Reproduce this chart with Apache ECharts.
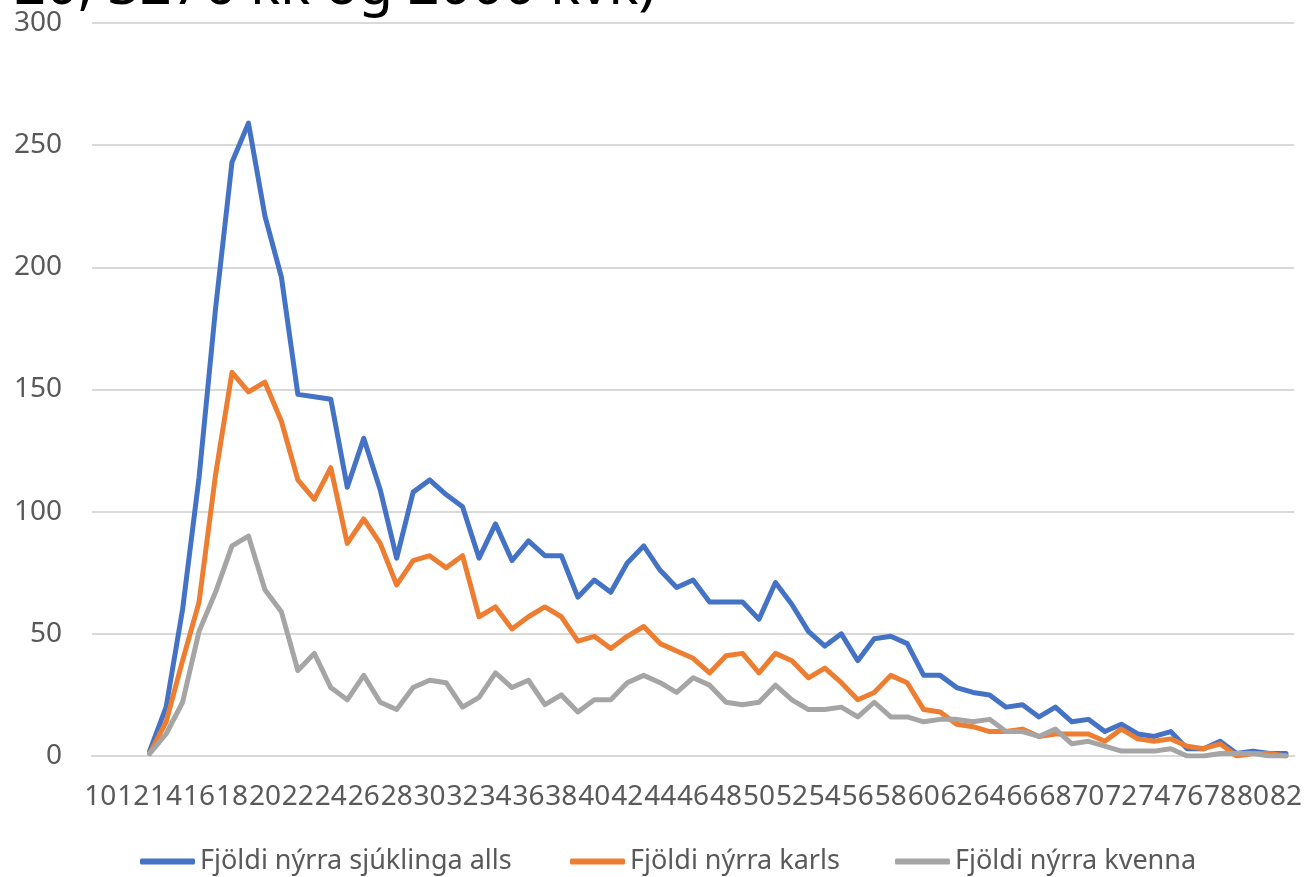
<!DOCTYPE html>
<html>
<head>
<meta charset="utf-8">
<script src="https://cdn.jsdelivr.net/npm/echarts@6/dist/echarts.min.js"></script>
<style>html,body{margin:0;padding:0;background:#fff}#c{width:1305px;height:877px}</style>
</head>
<body>
<div id="c"></div>
<script>
// Ages (categories) 10..82
const ages = ['10','11','12','13','14','15','16','17','18','19','20','21','22','23','24','25','26','27','28','29','30','31','32','33','34','35','36','37','38','39','40','41','42','43','44','45','46','47','48','49','50','51','52','53','54','55','56','57','58','59','60','61','62','63','64','65','66','67','68','69','70','71','72','73','74','75','76','77','78','79','80','81','82'];

const seriesNames = ['Fjöldi nýrra sjúklinga alls', 'Fjöldi nýrra karls', 'Fjöldi nýrra kvenna'];

const allsValues = [null,null,null,2,20,60,114,183,243,259,221,196,148,147,146,110,130,109,81,108,113,107,102,81,95,80,88,82,82,65,72,67,79,86,76,69,72,63,63,63,56,71,62,51,45,50,39,48,49,46,33,33,28,26,25,20,21,16,20,14,15,10,13,9,8,10,3,3,6,1,2,1,1];

const karlsValues = [null,null,null,1,14,39,63,115,157,149,153,137,113,105,118,87,97,87,70,80,82,77,82,57,61,52,57,61,57,47,49,44,49,53,46,43,40,34,41,42,34,42,39,32,36,30,23,26,33,30,19,18,13,12,10,10,11,8,9,9,9,6,11,7,6,7,4,3,5,0,1,1,0];

const kvennaValues = [null,null,null,1,9,22,51,67,86,90,68,59,35,42,28,23,33,22,19,28,31,30,20,24,34,28,31,21,25,18,23,23,30,33,30,26,32,29,22,21,22,29,23,19,19,20,16,22,16,16,14,15,15,14,15,10,10,8,11,5,6,4,2,2,2,3,0,0,1,1,1,0,0];

const yTicks = [0, 50, 100, 150, 200, 250, 300];
const titleText = '20, 3276 kk og 2000 kvk)';

const colors = ['#4472C4', '#ED7D31', '#A5A5A5'];
const FONT = 'Noto Sans';

const chart = echarts.init(document.getElementById('c'), null, {renderer: 'canvas'});

function legendAt(name, left) {
  return {
    data: [name], left: left, top: 843, orient: 'horizontal',
    icon: 'roundRect', itemWidth: 55, itemHeight: 6, itemGap: 5,
    textStyle: {fontFamily: FONT, fontSize: 27, color: '#595959', padding: [0,0,0,0]},
    selectedMode: false
  };
}

chart.setOption({
  animation: false,
  backgroundColor: '#ffffff',
  graphic: [{
    type: 'text', left: 14, top: -40,
    style: {text: titleText, fontFamily: FONT, fontSize: 56, fill: '#000000'}
  }],
  legend: [legendAt(seriesNames[0], 135), legendAt(seriesNames[1], 565), legendAt(seriesNames[2], 890)],
  grid: {left: 92, right: 10, top: 23, bottom: 121, containLabel: false},
  xAxis: {
    type: 'category', data: ages, boundaryGap: true,
    axisLine: {show: true, lineStyle: {color: '#D9D9D9', width: 2}},
    axisTick: {show: false},
    axisLabel: {interval: 1, margin: 27, fontFamily: FONT, fontSize: 28, color: '#595959', hideOverlap: false}
  },
  yAxis: {
    type: 'value', min: yTicks[0], max: yTicks[yTicks.length-1], interval: 50,
    axisLine: {show: false}, axisTick: {show: false},
    splitLine: {lineStyle: {color: '#D9D9D9', width: 2}},
    axisLabel: {margin: 30, fontFamily: FONT, fontSize: 28, color: '#595959'}
  },
  series: [
    {name: seriesNames[0], type: 'line', data: allsValues, symbol: 'none', smooth: false, connectNulls: false,
     itemStyle: {color: colors[0]}, lineStyle: {color: colors[0], width: 5, cap: 'round', join: 'round'}},
    {name: seriesNames[1], type: 'line', data: karlsValues, symbol: 'none', smooth: false,
     itemStyle: {color: colors[1]}, lineStyle: {color: colors[1], width: 5, cap: 'round', join: 'round'}},
    {name: seriesNames[2], type: 'line', data: kvennaValues, symbol: 'none', smooth: false,
     itemStyle: {color: colors[2]}, lineStyle: {color: colors[2], width: 5, cap: 'round', join: 'round'}}
  ]
});
</script>
</body>
</html>
